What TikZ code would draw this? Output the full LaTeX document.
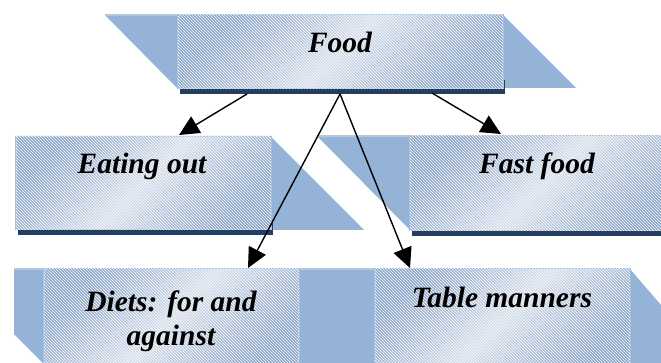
\documentclass[tikz,border=0pt]{standalone}
\usepackage{fontspec}
\setmainfont{Liberation Serif}
\usetikzlibrary{arrows.meta,patterns}
\definecolor{boxdark}{RGB}{136,162,199}
\definecolor{boxlight}{RGB}{212,221,233}
\definecolor{shadowblue}{RGB}{149,179,215}
\definecolor{shadowlight}{RGB}{178,199,226}
\definecolor{stripcol}{RGB}{36,62,96}
\definecolor{edgecol}{RGB}{164,190,222}
\tikzset{
  boxnode/.style={draw=edgecol, line width=1.5pt, anchor=north west, inner sep=0pt,
    left color=boxdark, right color=boxdark, middle color=boxlight, shading angle=45,
    postaction={pattern=north west lines, pattern color=white, fill opacity=0.2}},
  shadowshape/.style={fill=shadowblue},
  shadowtop/.style={draw=shadowlight, line width=1.5pt},
  stripbar/.style={fill=stripcol},
  txt/.style={font=\fontsize{29.5}{34}\selectfont\bfseries\itshape, align=center, inner sep=0pt},
  link/.style={line width=1.4pt, -{Triangle[length=20pt,width=19pt]}}
}
\begin{document}
\begin{tikzpicture}[x=1pt,y=-1pt]
\useasboundingbox (0,0) rectangle (661,363);
\clip (0,0) rectangle (661,363);
% shadows
\fill[shadowshape] (105,15) -- (503,15) -- (576,88) -- (177,88) -- cycle;
\draw[shadowtop] (105,15) -- (503,15);
\fill[shadowshape] (15,136) -- (270,136) -- (364,230) -- (15,230) -- cycle;
\fill[shadowshape] (317,136) -- (661,136) -- (661,230) -- (410,230) -- cycle;
\draw[shadowtop] (317,136) -- (661,136);
\fill[shadowshape] (14,269) -- (380,269) -- (380,363) -- (43,363) -- (14,334) -- cycle;
\fill[shadowshape] (340,269) -- (630,269) -- (661,305) -- (661,363) -- (340,363) -- cycle;
\draw[shadowtop] (14,269) -- (630,269);
% dark strips
\fill[stripbar] (180,80) rectangle (505,94);
\fill[stripbar] (18,220) rectangle (273,235);
\fill[stripbar] (412,220) rectangle (665,236);
% boxes
\node[boxnode, minimum width=325pt, minimum height=74pt] (food) at (177,14) {};
\node[boxnode, minimum width=255pt, minimum height=93pt] (eat) at (15,136) {};
\node[boxnode, minimum width=270pt, minimum height=95pt] (fast) at (409,135) {};
\node[boxnode, minimum width=255pt, minimum height=100pt] (diets) at (43,268) {};
\node[boxnode, minimum width=255pt, minimum height=100pt] (table) at (374,268) {};
% texts
\node[txt, anchor=base] (foodtxt) at (340,53) {Food};
\node[txt, anchor=base] (eattxt) at (142,174) {Eating out};
\node[txt, anchor=base] (fasttxt) at (537,174) {Fast food};
\node[txt, anchor=base] (tabletxt) at (502,307) {Table manners};
\node[txt] (dietstxt) at (171,321) {Diets: for and\\against};
% connectors
\coordinate (fa) at (247,94);
\coordinate (fb) at (340,94);
\coordinate (ea) at (179,135);
\coordinate (fc) at (432,93);
\coordinate (fe) at (501,134);
\coordinate (de) at (248,268);
\coordinate (te) at (410,268);
\draw[link] (fa) -- (ea);
\draw[link] (fc) -- (fe);
\draw[link] (fb) -- (de);
\draw[link] (fb) -- (te);
\end{tikzpicture}
\end{document}
